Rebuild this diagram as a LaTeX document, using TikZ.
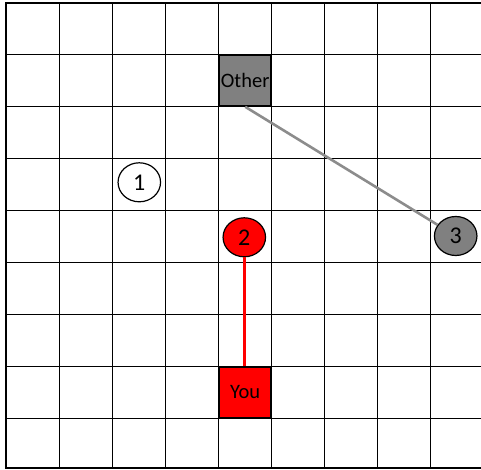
\documentclass[tikz,border=0pt]{standalone}
\usepackage{fontspec}
\setmainfont{Carlito}
\usepackage{xcolor}
\usetikzlibrary{shapes.geometric}
\definecolor{tilegray}{RGB}{128,128,128}
\definecolor{linkgray}{RGB}{140,140,140}
\tikzset{
  gridline/.style={draw=black,line width=0.9pt},
  frameline/.style={draw=black,line width=1.8pt},
  playerbox/.style={draw=black,line width=1.6pt,minimum width=52pt,minimum height=51pt,
    inner sep=0pt,font=\fontsize{20.5}{24}\selectfont},
  stopmark/.style={ellipse,draw=black,line width=1.2pt,minimum width=42.5pt,minimum height=39pt,
    inner sep=0pt,font=\fontsize{24}{28}\selectfont},
  linkline/.style={line width=2.6pt}
}

\begin{document}
\begin{tikzpicture}[x=1pt,y=1pt]
  \useasboundingbox (0,0) rectangle (481,470);
  % board
  \foreach \gx in {59.1,112.2,165.3,218.4,271.5,324.6,377.7,430.8}
    \draw[gridline] (\gx,1.7) -- (\gx,467.3);
  \foreach \gy in {51.7,103.3,155.6,207.7,259.3,311.2,363.3,415.6}
    \draw[gridline] (6,\gy) -- (481,\gy);
  \draw[frameline] (490,467.3) -- (6,467.3) -- (6,1.7) -- (490,1.7);

  \node[playerbox,fill=tilegray] (other) at (245.2,389.5) {Other};
  \node[playerbox,fill=red] (you) at (245.2,77.5) {You};
  \node[stopmark,fill=white] (stop1) at (139.3,287.7) {1};
  \node[stopmark,fill=red] (stop2) at (244.3,232.7) {2};
  \node[stopmark,fill=tilegray] (stop3) at (455.7,234) {3};

  \draw[linkline,red] (stop2.south) -- (stop2.south |- you.north);
  \draw[linkline,linkgray] (other.south) -- (stop3);
\end{tikzpicture}
\end{document}
